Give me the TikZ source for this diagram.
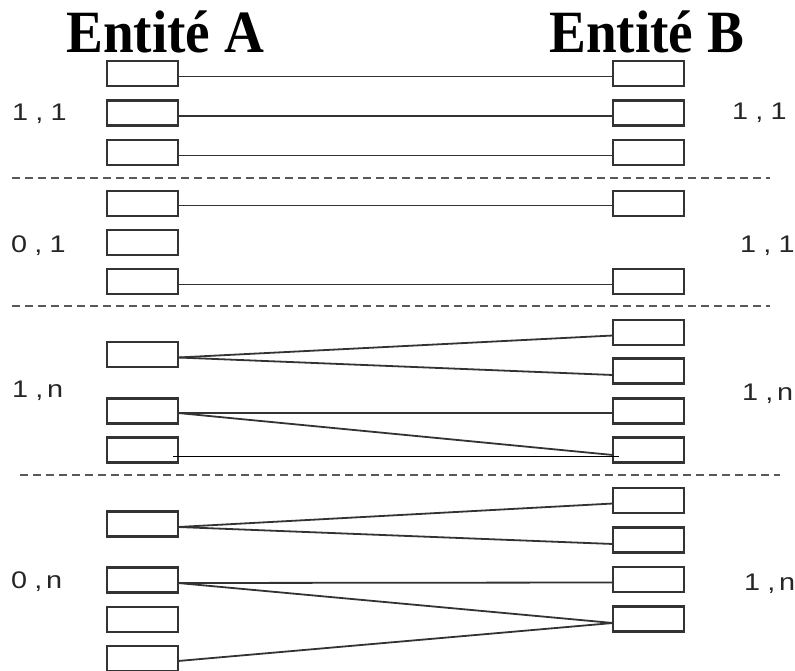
\documentclass[tikz,border=0pt]{standalone}
\usepackage{fontspec}
\setmainfont{Liberation Serif}
\newfontfamily\lblfont{Liberation Sans}
\newcommand{\cardtext}[3]{\scalebox{1.2}[1]{#1\hspace{6pt},\hspace{#3}#2}}
\begin{document}
\begin{tikzpicture}[x=1pt,y=-1pt,
  ebox/.style={draw=black!80, line width=2.2pt, minimum width=71pt, minimum height=25pt, inner sep=0pt, outer sep=0pt},
  link/.style={draw=black!80, line width=1.8pt},
  thinlink/.style={draw=black, line width=1pt},
  sep/.style={draw=black!65, line width=1.3pt, dash pattern=on 8pt off 5pt},
  card/.style={anchor=base west, inner sep=0pt, text=black!85, font=\lblfont\fontsize{24}{24}\selectfont},
  title/.style={anchor=base west, inner sep=0pt, font=\bfseries\fontsize{60}{60}\selectfont}]
\useasboundingbox (0,0) rectangle (795,671);

% titles
\node[title] (ta) at (66,53) {\scalebox{0.92}[1]{Entité A}};
\node[title] (tb) at (549,53) {\scalebox{0.92}[1]{Entité B}};

% separators
\draw[sep] (12,178) -- (770,178);
\draw[sep] (12,306) -- (770,306);
\draw[sep] (20,475) -- (780,475);

% section 1
\node[ebox] (a1) at (142.5,73.5) {};
\node[ebox] (a2) at (142.5,113) {};
\node[ebox] (a3) at (142.5,152.5) {};
\node[ebox] (b1) at (648.5,73.5) {};
\node[ebox] (b2) at (648.5,113) {};
\node[ebox] (b3) at (648.5,152.5) {};
% section 2
\node[ebox] (c1) at (142.5,203.5) {};
\node[ebox] (c2) at (142.5,242.5) {};
\node[ebox] (c3) at (142.5,281.5) {};
\node[ebox] (d1) at (648.5,203.5) {};
\node[ebox] (d3) at (648.5,281.5) {};
% section 3
\node[ebox] (e1) at (142.5,354.5) {};
\node[ebox] (e2) at (142.5,411) {};
\node[ebox] (e3) at (142.5,450) {};
\node[ebox] (f1) at (648.5,332.5) {};
\node[ebox] (f2) at (648.5,371) {};
\node[ebox] (f3) at (648.5,411) {};
\node[ebox] (f4) at (648.5,450) {};
% section 4
\node[ebox] (g1) at (142.5,524) {};
\node[ebox] (g2) at (142.5,580) {};
\node[ebox] (g3) at (142.5,619.5) {};
\node[ebox] (g4) at (142.5,658.5) {};
\node[ebox] (h1) at (648.5,500.5) {};
\node[ebox] (h2) at (648.5,540) {};
\node[ebox] (h3) at (648.5,579.5) {};
\node[ebox] (h4) at (648.5,619) {};

% connectors
\draw[link] ([yshift=-3pt]a1.east) -- ([yshift=-3pt]b1.west);
\draw[link] ([yshift=-3pt]a2.east) -- ([yshift=-3pt]b2.west);
\draw[link] ([yshift=-3pt]a3.east) -- ([yshift=-3pt]b3.west);
\draw[link] ([yshift=-2pt]c1.east) -- ([yshift=-2pt]d1.west);
\draw[link] ([yshift=-3pt]c3.east) -- ([yshift=-3pt]d3.west);
\draw[link] ([yshift=-3pt]e1.east) -- ([yshift=-3pt]f1.west);
\draw[link] ([yshift=-3pt]e1.east) -- ([yshift=-4pt]f2.west);
\draw[link] ([yshift=-2pt]e2.east) -- ([yshift=-2pt]f3.west);
\draw[link] ([yshift=-2pt]e2.east) -- ([yshift=-5pt]f4.west);
\draw[thinlink] ([xshift=-5pt,yshift=-6pt]e3.east) -- ([xshift=6pt,yshift=-6pt]f4.west);
\draw[link] ([yshift=-3pt]g1.east) -- ([yshift=-3pt]h1.west);
\draw[link] ([yshift=-3pt]g1.east) -- ([yshift=-4pt]h2.west);
\draw[link] ([yshift=-3pt]g2.east) -- ([yshift=-3pt]h3.west);
\draw[link] ([yshift=-3pt]g2.east) -- ([yshift=-4pt]h4.west);
\draw[link] ([yshift=-2.5pt]g4.east) -- ([yshift=-4pt]h4.west);

% cardinalities
\node[card] (l1) at (12,121) {\cardtext{1}{1}{6pt}};
\node[card] (l2) at (11,252) {\cardtext{0}{1}{6pt}};
\node[card] (l3) at (12,397) {\cardtext{1}{n}{3pt}};
\node[card] (l4) at (11,588) {\cardtext{0}{n}{3pt}};
\node[card] (r1) at (732,120) {\cardtext{1}{1}{6pt}};
\node[card] (r2) at (740,252) {\cardtext{1}{1}{6pt}};
\node[card] (r3) at (742,400) {\cardtext{1}{n}{3pt}};
\node[card] (r4) at (744,590) {\cardtext{1}{n}{3pt}};
\end{tikzpicture}
\end{document}
